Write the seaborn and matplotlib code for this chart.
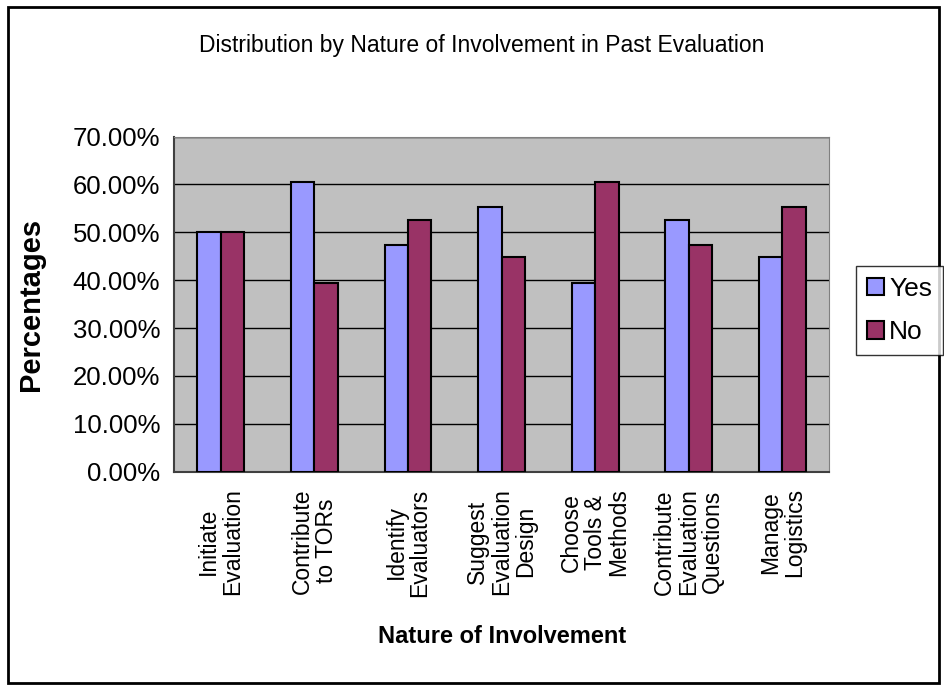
import matplotlib
matplotlib.use("Agg")
import matplotlib.pyplot as plt
import matplotlib.ticker as mtick
from matplotlib.patches import Rectangle
import pandas as pd
import seaborn as sns

# data
categories = ["Initiate\nEvaluation", "Contribute\nto TORs", "Identify\nEvaluators",
              "Suggest\nEvaluation\nDesign", "Choose\nTools &\nMethods",
              "Contribute\nEvaluation\nQuestions", "Manage\nLogistics"]
yes_pct = [50.00, 60.53, 47.37, 55.26, 39.47, 52.63, 44.74]
no_pct = [50.00, 39.47, 52.63, 44.74, 60.53, 47.37, 55.26]
series = ["Yes", "No"]
y_ticks = [0, 10, 20, 30, 40, 50, 60, 70]

df = pd.DataFrame({
    "category": categories * 2,
    "answer": ["Yes"] * len(categories) + ["No"] * len(categories),
    "pct": yes_pct + no_pct,
})

sns.set_style("white")
plt.rcParams["font.family"] = ["Liberation Sans", "DejaVu Sans"]
plt.rcParams["text.color"] = "black"
plt.rcParams["xtick.color"] = "black"
plt.rcParams["ytick.color"] = "black"
plt.rcParams["axes.labelcolor"] = "black"

fig = plt.figure(figsize=(9.44, 6.87), dpi=100)
ax = fig.add_axes([0.1843, 0.3134, 0.694, 0.4879])
ax.set_facecolor("#C0C0C0")

sns.barplot(data=df, x="category", y="pct", hue="answer", hue_order=series,
            palette={"Yes": "#9999FF", "No": "#993366"}, width=0.5,
            edgecolor="black", linewidth=1.5, saturation=1, ax=ax, zorder=3)

ax.set_ylim(0, 70)
ax.set_xlim(-0.5, len(categories) - 0.5)
ax.set_yticks(y_ticks)
ax.yaxis.set_major_formatter(mtick.PercentFormatter(decimals=2))
ax.grid(axis="y", color="black", linewidth=1, zorder=0)
ax.set_axisbelow(True)

# x ticks sit between the groups, labels at the centres
ax.set_xticks([i - 0.5 for i in range(len(categories) + 1)], minor=True)
ax.tick_params(axis="x", which="minor", length=6, width=1, color="#404040", direction="out")
ax.tick_params(axis="x", which="major", length=0, pad=12)
ax.tick_params(axis="y", length=6, width=1, color="#404040", direction="out", pad=4)
for lab in ax.get_xticklabels():
    lab.set_rotation(90)
    lab.set_fontsize(16.5)
    lab.set_linespacing(1.05)
    lab.set_multialignment("center")
for lab in ax.get_yticklabels():
    lab.set_fontsize(18.5)

for side in ["top", "right"]:
    ax.spines[side].set_color("#808080")
for side in ["left", "bottom"]:
    ax.spines[side].set_color("#404040")
    ax.spines[side].set_linewidth(1.5)

ax.set_xlabel("")
ax.set_ylabel("Percentages", fontsize=21, fontweight="bold")
ax.yaxis.set_label_coords(-0.197, 0.5)
fig.text(0.532, 0.073, "Nature of Involvement", ha="center", va="center",
         fontsize=17, fontweight="bold")

fig.text(0.51, 0.934, "Distribution by Nature of Involvement in Past Evaluation",
         ha="center", va="center", fontsize=16.5)

handles, labels = ax.get_legend_handles_labels()
ax.get_legend().remove()
leg = fig.legend(handles, labels, loc="center left", bbox_to_anchor=(0.907, 0.548),
                 frameon=True, fancybox=False, edgecolor="black", fontsize=19,
                 handlelength=0.65, handleheight=0.65, handletextpad=0.2,
                 borderpad=0.4, borderaxespad=0, labelspacing=0.75)
leg.get_frame().set_linewidth(1)
# frame is a bit narrow in the reference, trim the padding
leg._legend_box.sep = 2

fig.patches.append(Rectangle((0.009, 0.006), 0.986, 0.984, transform=fig.transFigure,
                             fill=False, edgecolor="black", linewidth=2))

fig.savefig("out.png", dpi=100)
